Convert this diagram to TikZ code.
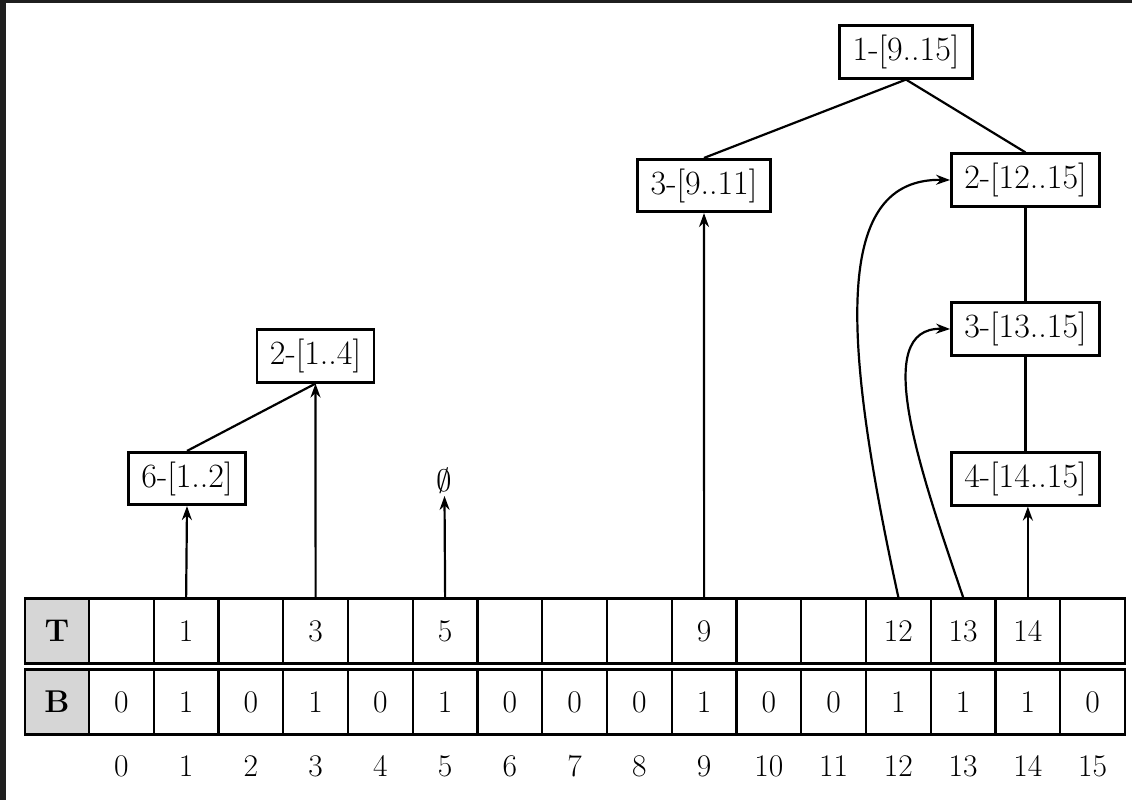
\documentclass[tikz,border=0pt]{standalone}
\usepackage{fontspec}
\usetikzlibrary{arrows.meta}
\begin{document}
\begin{tikzpicture}[x=1pt,y=-1pt,
  big/.style={font=\fontsize{31.5}{36}\selectfont},
  box/.style={font=\fontsize{34}{38}\selectfont, draw, line width=2.6pt, inner xsep=13pt, inner ysep=9.3pt, fill=white},
  cell/.style={big, draw, line width=2.4pt, minimum width=64.75pt, minimum height=65pt, inner sep=0pt},
  lab/.style={cell, fill=black!16, font=\fontsize{31.5}{36}\selectfont\bfseries, minimum width=64pt},
  link/.style={line width=2.2pt},
  ptr/.style={line width=2.2pt, -{Stealth[length=14pt,width=10pt]}}]
\fill[black!88] (0,0) rectangle (1132,800);
\fill[white] (6,3) rectangle (1132,800);
\useasboundingbox (0,0) rectangle (1132,800);

% table
\node[lab] (tl) at (57,631) {T};
\node[lab] (bl) at (57,702) {B};
\foreach \i/\t/\b in {0/{}/0,1/1/1,2/{}/0,3/3/1,4/{}/0,5/5/1,6/{}/0,7/{}/0,8/{}/0,9/9/1,10/{}/0,11/{}/0,12/12/1,13/13/1,14/14/1,15/{}/0}{
  \node[cell] (t\i) at ({121.375+64.75*\i},631) {\t};
  \node[cell] (b\i) at ({121.375+64.75*\i},702) {\b};
  \node[big] (i\i) at ({121.375+64.75*\i},766) {\i};
}

% tree nodes
\node[box] (n1) at (906,52) {1-[9..15]};
\node[box] (n3911) at (704,185.5) {3-[9..11]};
\node[box] (n212) at (1025.5,180) {2-[12..15]};
\node[box] (n313) at (1025.5,329) {3-[13..15]};
\node[box] (n414) at (1025.5,479) {4-[14..15]};
\node[box] (n24) at (315.5,356) {2-[1..4]};
\node[box] (n62) at (187,478.5) {6-[1..2]};
\node[scale=3.1, inner sep=0.6pt] (e5) at (444.5,481) {$\emptyset$};

% tree links
\draw[link] (n1.south) -- (n3911.north);
\draw[link] (n1.south) -- (n212.north);
\draw[link] (n212.south) -- (n313.north);
\draw[link] (n313.south) -- (n414.north);
\draw[link] (n62.north) -- (n24.south);

% pointers
\draw[ptr] (t1.north) -- (n62.south);
\draw[ptr] (t3.north) -- (n24.south);
\draw[ptr] (t5.north) -- (e5.south);
\draw[ptr] (t9.north) -- (n3911.south);
\draw[ptr] (t14.north) -- (t14.north |- n414.south);
\draw[ptr] (t12.north) .. controls (840,330) and (835,178) .. (n212.west);
\draw[ptr] (t13.north) .. controls (920,470) and (870,327) .. (n313.west);
\end{tikzpicture}
\end{document}
